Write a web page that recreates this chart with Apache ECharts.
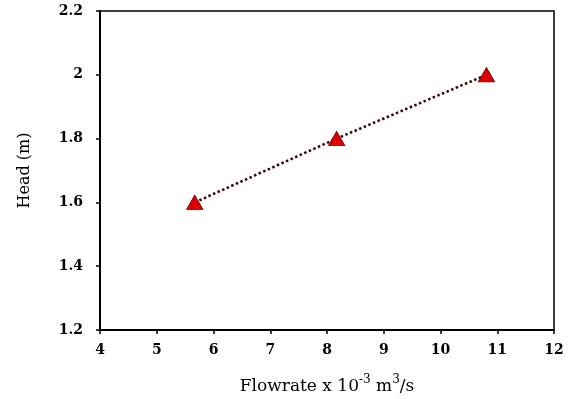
<!DOCTYPE html>
<html><head><meta charset="utf-8">
<script src="https://cdn.jsdelivr.net/npm/echarts@6/dist/echarts.min.js"></script>
<style>html,body{margin:0;padding:0;background:#fff}#c{width:574px;height:399px}</style>
</head><body><div id="c"></div>
<script>
var flowrate = [5.67, 8.17, 10.81];
var head = [1.6, 1.8, 2.0];
var xTicks = [4, 5, 6, 7, 8, 9, 10, 11, 12];
var yTicks = [1.2, 1.4, 1.6, 1.8, 2, 2.2];

var FONT = '"DejaVu Serif", "Liberation Serif", serif';
var chart = echarts.init(document.getElementById('c'), null, {renderer: 'canvas'});
var axisCommon = {
  axisLine: {show: true, onZero: false, lineStyle: {color: '#000', width: 2}},
  axisTick: {show: true, inside: false, length: 4, lineStyle: {color: '#000', width: 1.5}},
  splitLine: {show: false},
  axisLabel: {color: '#000', fontFamily: FONT, fontSize: 14, fontWeight: 'bold'}
};
chart.setOption({
  animation: false,
  backgroundColor: '#fff',
  grid: {left: 100, top: 11, right: 20, bottom: 69, containLabel: false, outerBoundsMode: 'none',
         show: true, borderColor: '#000', borderWidth: 1.5, backgroundColor: 'transparent'},
  xAxis: Object.assign({}, axisCommon, {
    type: 'value', min: xTicks[0], max: xTicks[xTicks.length - 1], interval: 1,
    axisLabel: Object.assign({}, axisCommon.axisLabel, {margin: 13}),
    name: '{a|Flowrate x 10}{s|-3}{a| m}{s|3}{a|/s}',
    nameLocation: 'middle', nameGap: 44,
    nameTextStyle: {
      rich: {
        a: {fontFamily: FONT, fontSize: 17, color: '#000', verticalAlign: 'bottom', lineHeight: 21},
        s: {fontFamily: FONT, fontSize: 12, color: '#000', verticalAlign: 'top', lineHeight: 21, padding: [0, 0, 8, 0]}
      }
    }
  }),
  yAxis: Object.assign({}, axisCommon, {
    type: 'value', min: yTicks[0], max: yTicks[yTicks.length - 1], interval: 0.2,
    axisLabel: Object.assign({}, axisCommon.axisLabel, {margin: 17, formatter: function (v) { return String(Math.round(v * 10) / 10); }}),
    name: 'Head (m)', nameLocation: 'middle', nameGap: 67, nameRotate: 90,
    nameTextStyle: {fontFamily: FONT, fontSize: 16, color: '#000'}
  }),
  series: [{
    type: 'line',
    data: flowrate.map(function (x, i) { return [x, head[i]]; }),
    symbol: 'triangle', symbolSize: [16, 14],
    itemStyle: {color: '#e00000', borderColor: '#800000', borderWidth: 1},
    lineStyle: {color: '#3a0000', width: 2.5, type: [2.5, 2.5]},
    z: 3
  }]
});
</script></body></html>
